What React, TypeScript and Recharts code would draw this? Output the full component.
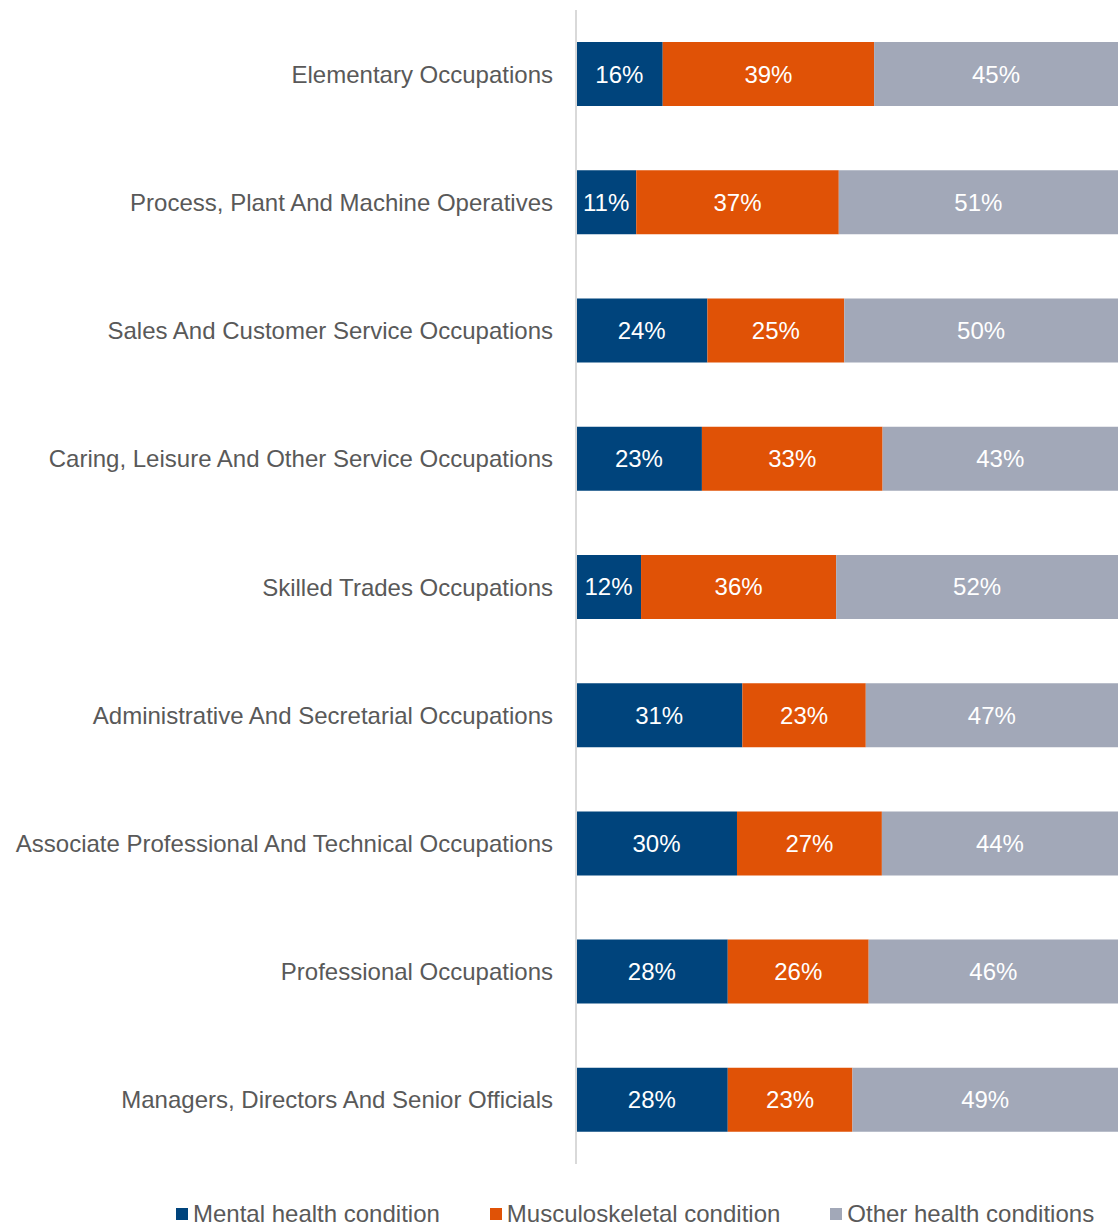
import { Bar, BarChart, LabelList, Legend, XAxis, YAxis } from 'recharts'

const occupations = [
  'Elementary Occupations',
  'Process, Plant And Machine Operatives',
  'Sales And Customer Service Occupations',
  'Caring, Leisure And Other Service Occupations',
  'Skilled Trades Occupations',
  'Administrative And Secretarial Occupations',
  'Associate Professional And Technical Occupations',
  'Professional Occupations',
  'Managers, Directors And Senior Officials',
]

const mentalHealth = [16, 11, 24, 23, 12, 31, 30, 28, 28]
const musculoskeletal = [39, 37, 25, 33, 36, 23, 27, 26, 23]
const otherConditions = [45, 51, 50, 43, 52, 47, 44, 46, 49]

const series = [
  { key: 'mental', name: 'Mental health condition', color: '#00447C' },
  { key: 'msk', name: 'Musculoskeletal condition', color: '#E05206' },
  { key: 'other', name: 'Other health conditions', color: '#A2A8B8' },
]

const data = occupations.map((name, i) => ({
  name,
  mental: mentalHealth[i],
  msk: musculoskeletal[i],
  other: otherConditions[i],
}))

const font = '"Liberation Sans", Arial, sans-serif'

function LegendBox() {
  return (
    <div
      style={{
        width: 1118,
        height: 61,
        display: 'flex',
        alignItems: 'flex-end',
        gap: 50,
        paddingLeft: 176,
        fontFamily: font,
        fontSize: 24,
        color: '#595959',
        boxSizing: 'border-box',
        whiteSpace: 'nowrap',
      }}
    >
      {series.map((s) => (
        <div key={s.key} style={{ display: 'flex', alignItems: 'center', flexShrink: 0, lineHeight: '22px' }}>
          <span style={{ width: 12, height: 12, background: s.color, marginRight: 5, display: 'inline-block' }} />
          <span>{s.name}</span>
        </div>
      ))}
    </div>
  )
}

export default function App() {
  return (
    <div style={{ position: 'absolute', top: 0, left: 0, width: 1118, height: 1225, background: '#fff' }}>
      <BarChart
        width={1118}
        height={1225}
        data={data}
        layout="vertical"
        stackOffset="expand"
        barCategoryGap="25%"
        margin={{ top: 10, right: 0, bottom: 0, left: 0 }}
      >
        <XAxis type="number" hide domain={[0, 1]} />
        <YAxis
          type="category"
          dataKey="name"
          width={576}
          axisLine={{ stroke: '#d9d9d9', strokeWidth: 2 }}
          tickLine={false}
          tickSize={0}
          tickMargin={23}
          tick={{ fill: '#595959', fontSize: 24, fontFamily: font }}
          interval={0}
        />
        <Legend verticalAlign="bottom" content={<LegendBox />} />
        {series.map((s) => (
          <Bar key={s.key} dataKey={s.key} name={s.name} stackId="a" fill={s.color} isAnimationActive={false}>
            <LabelList
              dataKey={s.key}
              position="center"
              fill="#ffffff"
              fontSize={24}
              fontFamily={font}
              formatter={(v: any) => `${v}%`}
            />
          </Bar>
        ))}
      </BarChart>
    </div>
  )
}
